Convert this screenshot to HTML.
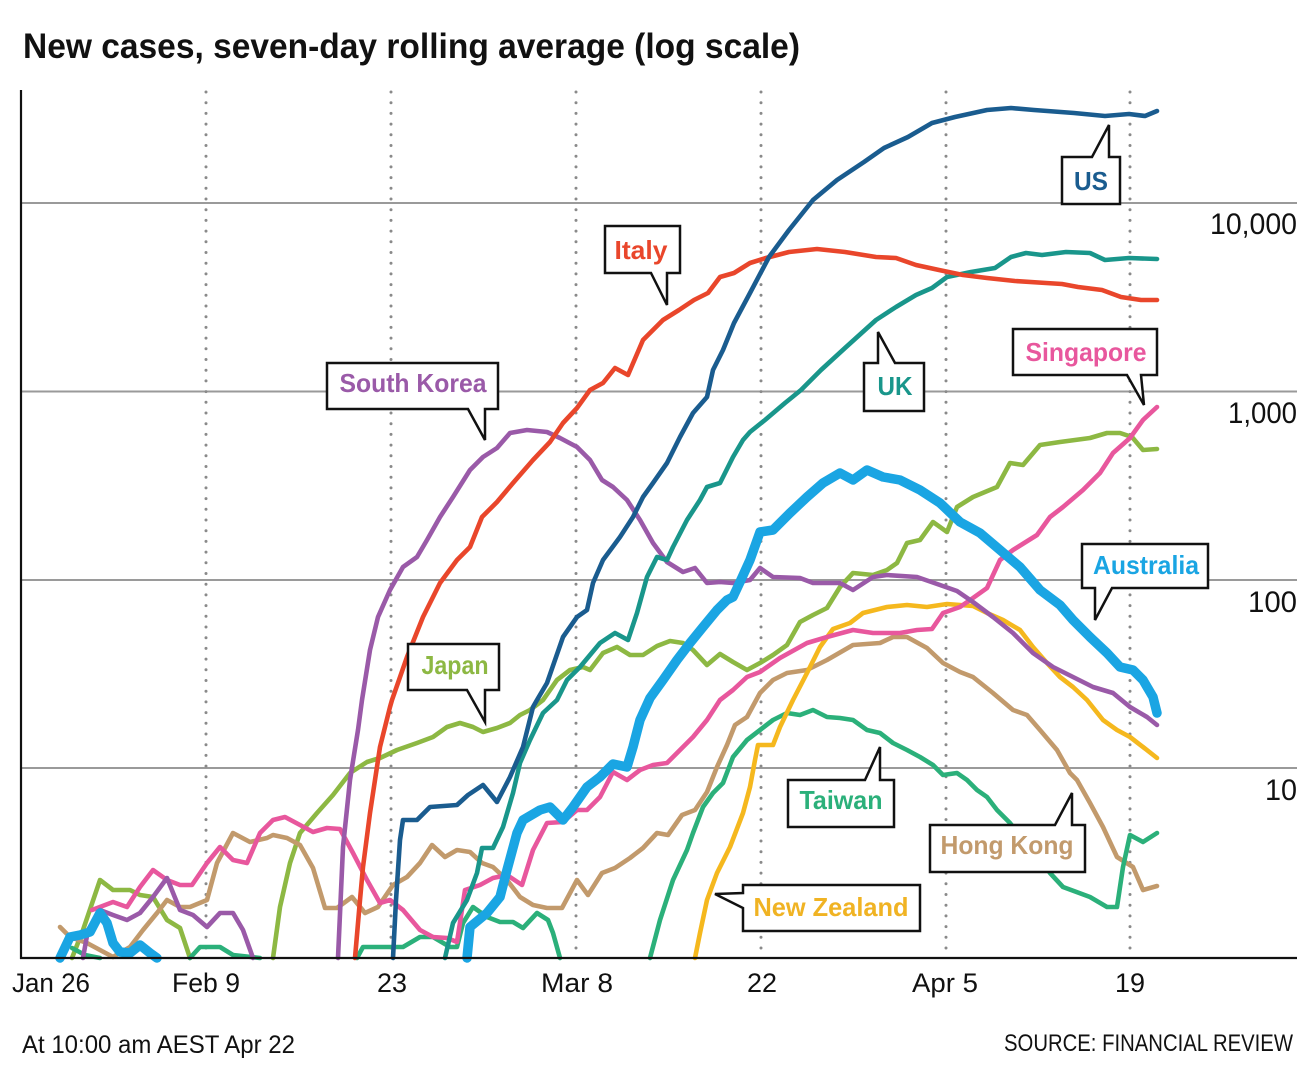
<!DOCTYPE html>
<html>
<head>
<meta charset="utf-8">
<style>
  html, body { margin: 0; padding: 0; background: #ffffff; }
  svg { display: block; }
  text { font-family: "Liberation Sans", "DejaVu Sans", sans-serif; }
  .lbl { font-weight: bold; font-size: 26px; }
  .ser { fill: none; stroke-width: 4.6; stroke-linejoin: round; stroke-linecap: round; }
  .aus { fill: none; stroke-width: 9.5; stroke-linejoin: round; stroke-linecap: round; }
  .box { fill: #ffffff; stroke: #111111; stroke-width: 2.5; stroke-linejoin: miter; }
</style>
</head>
<body>
<svg width="1312" height="1071" viewBox="0 0 1312 1071" xmlns="http://www.w3.org/2000/svg">
  <rect x="0" y="0" width="1312" height="1071" fill="#ffffff"/>

  <!-- Title -->
  <text x="23" y="58" font-size="35" font-weight="bold" fill="#111" textLength="777" lengthAdjust="spacingAndGlyphs">New cases, seven-day rolling average (log scale)</text>

  <!-- Horizontal gridlines -->
  <g stroke="#9a9a9a" stroke-width="2">
    <line x1="21" y1="203" x2="1297" y2="203"/>
    <line x1="21" y1="391.5" x2="1297" y2="391.5"/>
    <line x1="21" y1="580" x2="1297" y2="580"/>
    <line x1="21" y1="768" x2="1297" y2="768"/>
  </g>

  <!-- Vertical dotted lines -->
  <g stroke="#8a8a8a" stroke-width="3" stroke-linecap="round" stroke-dasharray="0 10.7">
    <line x1="206" y1="92" x2="206" y2="956"/>
    <line x1="391" y1="92" x2="391" y2="956"/>
    <line x1="576" y1="92" x2="576" y2="956"/>
    <line x1="761" y1="92" x2="761" y2="956"/>
    <line x1="946" y1="92" x2="946" y2="956"/>
    <line x1="1130" y1="92" x2="1130" y2="956"/>
  </g>

  <!-- Y labels -->
  <g font-size="30" fill="#111" text-anchor="end">
    <text x="1297" y="234" textLength="87" lengthAdjust="spacingAndGlyphs">10,000</text>
    <text x="1297" y="423" textLength="69" lengthAdjust="spacingAndGlyphs">1,000</text>
    <text x="1297" y="612" textLength="49" lengthAdjust="spacingAndGlyphs">100</text>
    <text x="1297" y="800" textLength="32" lengthAdjust="spacingAndGlyphs">10</text>
  </g>

  <!-- Series -->
  <!-- Japan -->
  <polyline class="ser" stroke="#8db843" points="72,958 83,930 100,880 113,890 130,890 140,895 153,897 167,920 180,928 190,958"/>
  <polyline class="ser" stroke="#8db843" points="273,958 280,907 290,863 300,833 317,813 333,795 350,773 367,762 380,758 397,750 417,743 433,737 447,727 460,723 473,727 483,732 497,728 510,723 520,715 530,710 543,700 557,680 570,670 583,667 590,670 603,653 617,647 630,655 643,655 657,646 670,641 683,643 693,650 707,665 720,654 733,662 747,670 760,663 773,655 787,645 800,622 813,615 827,608 840,587 853,573 873,575 887,570 897,563 907,543 920,540 933,522 947,532 957,507 973,497 997,487 1010,463 1023,465 1040,445 1060,442 1090,438 1107,433 1120,433 1132,437 1143,450 1157,449"/>

  <!-- Hong Kong -->
  <polyline class="ser" stroke="#c29a6c" points="60,927 70,937 87,943 100,950 113,957 130,947 143,930 157,913 167,900 180,907 190,907 207,900 217,863 233,833 250,842 267,838 273,835 287,838 300,845 313,868 325,908 337,908 352,897 365,913 378,907 393,885 407,877 420,863 432,845 445,857 457,850 470,852 482,863 493,867 507,880 520,897 533,905 547,908 562,908 577,880 588,895 602,873 615,868 630,858 643,848 657,833 668,835 682,815 695,810 707,792 717,767 727,745 735,725 747,717 760,693 773,680 787,673 807,670 827,660 853,645 880,643 893,637 907,637 927,648 943,663 960,672 973,677 993,693 1013,710 1027,715 1040,730 1057,750 1070,773 1077,780 1090,803 1103,827 1117,857 1133,867 1143,890 1157,886"/>

  <!-- Taiwan -->
  <polyline class="ser" stroke="#2bb07a" points="72,948 85,955 100,958"/>
  <polyline class="ser" stroke="#2bb07a" points="190,958 200,947 220,947 233,955 260,958"/>
  <polyline class="ser" stroke="#2bb07a" points="357,958 363,947 403,947 420,937 433,937 450,947 457,947 463,923 473,907 487,917 500,922 513,922 523,928 537,913 548,920 553,933 560,958"/>
  <polyline class="ser" stroke="#2bb07a" points="650,958 660,920 673,880 687,850 693,833 703,807 713,793 723,783 733,757 747,740 760,730 773,720 787,713 800,715 813,710 827,717 840,718 853,720 867,730 880,733 893,743 907,750 920,757 933,765 943,775 957,773 967,780 977,790 987,797 997,810 1010,823 1030,848 1050,873 1063,887 1090,897 1107,907 1117,907 1123,867 1130,835 1143,842 1157,833"/>

  <!-- New Zealand -->
  <polyline class="ser" stroke="#f5b81e" points="695,958 700,933 707,900 717,873 730,847 743,813 750,787 755,760 758,745 773,745 780,727 793,700 807,673 820,647 833,629 850,623 863,613 887,607 907,605 927,607 947,604 973,606 987,613 1003,620 1020,630 1033,647 1047,663 1060,677 1073,687 1087,700 1103,720 1117,730 1130,737 1143,747 1157,758"/>

  <!-- Singapore -->
  <polyline class="ser" stroke="#e8579d" points="92,910 113,902 127,907 140,887 153,870 167,880 180,885 192,885 207,863 220,847 233,860 247,863 260,833 273,820 285,817 300,825 313,832 327,828 340,829 353,853 367,880 380,903 390,900 403,910 420,930 433,937 447,938 457,942 465,890 480,885 493,878 507,875 522,885 533,850 547,823 563,822 577,810 587,810 600,797 613,772 627,780 640,770 653,765 667,763 680,750 693,737 707,720 720,700 733,690 747,677 760,672 780,658 807,643 827,637 853,630 873,633 900,633 917,630 932,629 943,613 960,607 973,598 987,588 1000,560 1013,550 1037,535 1050,517 1063,507 1083,490 1100,473 1113,453 1130,438 1143,420 1157,407"/>

  <!-- South Korea -->
  <polyline class="ser" stroke="#9a5aa8" points="83,958 88,930 100,910 113,915 127,920 140,913 153,897 167,878 180,910 193,915 207,927 220,913 233,913 243,930 253,958"/>
  <polyline class="ser" stroke="#9a5aa8" points="338,958 343,847 350,780 358,730 362,700 370,650 378,617 390,590 403,567 417,557 427,540 440,517 453,497 470,470 483,457 497,448 510,433 527,430 547,432 560,438 577,447 590,460 602,480 613,487 627,500 640,520 653,543 667,562 683,572 695,568 707,583 720,582 733,583 750,580 760,568 773,577 800,578 813,583 840,583 853,590 873,577 887,575 917,577 940,585 957,591 973,602 993,617 1013,633 1033,653 1053,667 1073,677 1093,687 1113,693 1130,707 1147,717 1157,725"/>

  <!-- UK -->
  <polyline class="ser" stroke="#19968b" points="445,958 453,923 467,900 477,873 482,848 493,848 503,827 513,793 520,763 530,740 543,713 557,700 567,680 580,667 600,643 615,633 628,640 637,613 647,577 657,557 667,560 673,547 687,520 700,500 707,487 720,483 733,457 743,440 750,432 765,420 785,403 801,390 821,370 845,348 876,320 896,307 916,295 932,288 947,277 971,272 995,268 1011,257 1026,253 1042,255 1066,252 1090,253 1105,260 1129,258 1157,259"/>

  <!-- Italy -->
  <polyline class="ser" stroke="#e9462b" points="355,958 360,900 363,867 370,813 380,747 390,707 392,700 407,657 423,617 440,583 457,560 470,547 482,517 497,502 513,483 533,460 550,442 563,423 577,408 590,390 603,383 615,368 628,375 643,340 663,320 679,310 694,300 708,293 720,277 734,273 750,263 766,258 789,252 817,249 845,252 876,257 896,258 916,265 939,270 963,275 987,278 1015,281 1046,283 1062,284 1078,287 1102,290 1121,297 1141,300 1157,300"/>

  <!-- US -->
  <polyline class="ser" stroke="#1a5c8f" points="393,958 396,900 400,840 403,820 417,820 430,807 457,805 468,795 483,785 497,802 510,777 523,747 533,707 537,700 547,683 563,637 577,617 587,610 593,583 603,560 620,537 633,517 643,497 653,483 667,463 680,437 693,413 707,397 713,370 723,350 734,323 750,293 769,257 789,230 813,200 837,180 864,162 884,148 908,137 932,123 955,117 987,110 1011,108 1034,110 1074,113 1105,116 1129,114 1145,116 1157,111"/>

  <!-- Australia (thick) -->
  <polyline class="aus" stroke="#1aa5e3" points="60,958 70,937 80,935 90,932 100,913 107,923 113,943 120,952 130,953 140,945 150,953 157,958"/>
  <polyline class="aus" stroke="#1aa5e3" points="467,958 470,927 487,913 500,897 507,870 517,833 523,820 540,810 550,807 563,820 573,807 587,787 600,777 613,764 627,767 633,747 640,720 650,698 663,680 677,660 690,643 703,627 717,610 727,600 733,597 740,582 750,560 760,532 773,530 790,513 807,497 823,483 840,473 853,480 867,470 883,477 900,480 920,490 940,503 960,522 980,533 1000,550 1020,567 1040,590 1060,605 1073,620 1090,637 1107,653 1120,667 1133,670 1143,680 1153,697 1157,713"/>

  <!-- Axes -->
  <line x1="21" y1="90" x2="21" y2="959" stroke="#111" stroke-width="2.2"/>
  <line x1="20" y1="958" x2="1297" y2="958" stroke="#111" stroke-width="2.2"/>

  <!-- Callouts -->
  <path class="box" d="M1062,157 L1092,157 L1109,125 L1109,157 L1120,157 L1120,204 L1062,204 Z"/>
  <text class="lbl" x="1091" y="190" text-anchor="middle" fill="#1a5c8f" textLength="34" lengthAdjust="spacingAndGlyphs">US</text>

  <path class="box" d="M605,226 H680 V273 H667 L667,305 L651,273 H605 Z"/>
  <text class="lbl" x="641" y="259" text-anchor="middle" fill="#e9462b" textLength="53" lengthAdjust="spacingAndGlyphs">Italy</text>

  <path class="box" d="M864,363 H878 V332 L895,363 H924 V411 H864 Z"/>
  <text class="lbl" x="895" y="395" text-anchor="middle" fill="#19968b" textLength="35" lengthAdjust="spacingAndGlyphs">UK</text>

  <path class="box" d="M1013,329 H1157 V375 H1141 L1144,405 L1127,375 H1013 Z"/>
  <text class="lbl" x="1086" y="361" text-anchor="middle" fill="#e8579d" textLength="121" lengthAdjust="spacingAndGlyphs">Singapore</text>

  <path class="box" d="M327,363 H498 V409 H485 V440 L468,409 H327 Z"/>
  <text class="lbl" x="413" y="392" text-anchor="middle" fill="#9a5aa8" textLength="147" lengthAdjust="spacingAndGlyphs">South Korea</text>

  <path class="box" d="M408,644 H499 V690 H485 V722 L467,690 H408 Z"/>
  <text class="lbl" x="455" y="674" text-anchor="middle" fill="#8db843" textLength="67" lengthAdjust="spacingAndGlyphs">Japan</text>

  <path class="box" d="M1082,544 H1208 V588 H1112 L1095,620 V588 H1082 Z"/>
  <text class="lbl" x="1146" y="574" text-anchor="middle" fill="#1aa5e3" textLength="106" lengthAdjust="spacingAndGlyphs">Australia</text>

  <path class="box" d="M788,780 H865 L880,747 V780 H894 V827 H788 Z"/>
  <text class="lbl" x="841" y="809" text-anchor="middle" fill="#2bb07a" textLength="83" lengthAdjust="spacingAndGlyphs">Taiwan</text>

  <path class="box" d="M930,825 H1055 L1072,793 V825 H1085 V872 H930 Z"/>
  <text class="lbl" x="1007" y="854" text-anchor="middle" fill="#c29a6c" textLength="133" lengthAdjust="spacingAndGlyphs">Hong Kong</text>

  <path class="box" d="M743,885 H920 V931 H743 V908 L715,894 L743,893 Z"/>
  <text class="lbl" x="831" y="916" text-anchor="middle" fill="#f0b323" textLength="155" lengthAdjust="spacingAndGlyphs">New Zealand</text>

  <!-- X labels -->
  <g font-size="27" fill="#111">
    <text x="12" y="992" textLength="78" lengthAdjust="spacingAndGlyphs">Jan 26</text>
    <text x="206" y="992" text-anchor="middle" textLength="68" lengthAdjust="spacingAndGlyphs">Feb 9</text>
    <text x="392" y="992" text-anchor="middle" textLength="30" lengthAdjust="spacingAndGlyphs">23</text>
    <text x="577" y="992" text-anchor="middle" textLength="72" lengthAdjust="spacingAndGlyphs">Mar 8</text>
    <text x="762" y="992" text-anchor="middle" textLength="30" lengthAdjust="spacingAndGlyphs">22</text>
    <text x="945" y="992" text-anchor="middle" textLength="66" lengthAdjust="spacingAndGlyphs">Apr 5</text>
    <text x="1130" y="992" text-anchor="middle" textLength="30" lengthAdjust="spacingAndGlyphs">19</text>
  </g>

  <!-- Footer -->
  <text x="22" y="1053" font-size="25" fill="#111" textLength="273" lengthAdjust="spacingAndGlyphs">At 10:00 am AEST Apr 22</text>
  <text x="1293" y="1051" font-size="24" fill="#111" text-anchor="end" textLength="289" lengthAdjust="spacingAndGlyphs">SOURCE: FINANCIAL REVIEW</text>
</svg>
</body>
</html>
